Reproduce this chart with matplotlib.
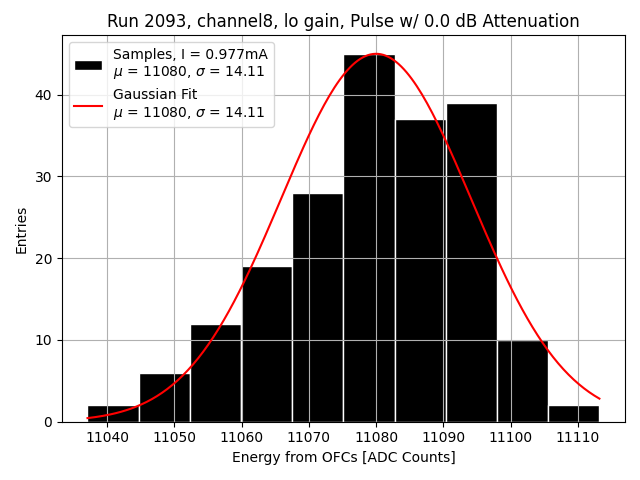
import numpy as np
from matplotlib import pyplot as plt

# histogram
edge_lo = 11037.1
edge_hi = 11113.2
counts = [2, 6, 12, 19, 28, 45, 37, 39, 10, 2]

mu = 11080
sigma = 14.11
amp = 45.0

edges = np.linspace(edge_lo, edge_hi, len(counts) + 1)
centers = (edges[:-1] + edges[1:]) / 2

fig, ax = plt.subplots(figsize=(6.4, 4.8))
ax.hist(centers, bins=edges, weights=counts, color="black", edgecolor="white",
        label=f"Samples, I = 0.977mA\n$\\mu$ = {mu}, $\\sigma$ = {sigma}")

xs = np.linspace(edge_lo, edge_hi, 200)
ax.plot(xs, amp * np.exp(-(xs - mu) ** 2 / (2 * sigma ** 2)), color="red",
        label=f"Gaussian Fit\n$\\mu$ = {mu}, $\\sigma$ = {sigma}")

ax.set_title("Run 2093, channel8, lo gain, Pulse w/ 0.0 dB Attenuation")
ax.set_xlabel("Energy from OFCs [ADC Counts]")
ax.set_ylabel("Entries")
ax.grid(True)
ax.legend(loc="upper left")
plt.tight_layout()
fig.subplots_adjust(top=fig.subplotpars.top + 0.004)
plt.savefig("out.png")
plt.close()
